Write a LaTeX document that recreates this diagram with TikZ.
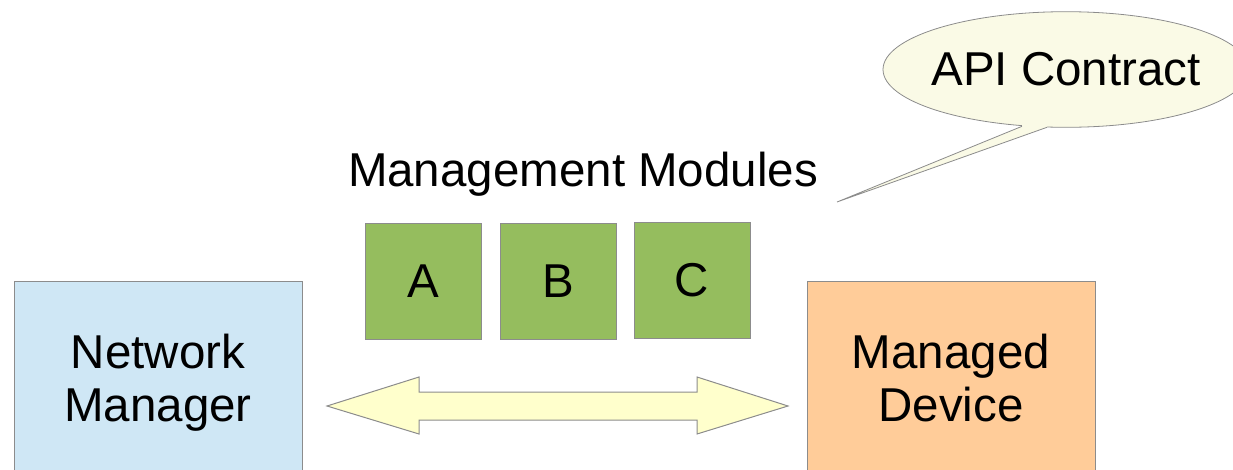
\documentclass[tikz,border=0pt]{standalone}
\usepackage{fontspec}
\setmainfont{Liberation Sans}
\usetikzlibrary{shapes.geometric}
\definecolor{nmblue}{HTML}{CFE7F5}
\definecolor{mdorange}{HTML}{FFCC99}
\definecolor{modgreen}{HTML}{95BD5E}
\definecolor{arrowyellow}{HTML}{FFFFCC}
\definecolor{calloutfill}{HTML}{FAFAE6}
\definecolor{edgegray}{HTML}{8C8C8C}
\begin{document}
\begin{tikzpicture}[x=1pt,y=-1pt,
  bigfont/.style={font=\fontsize{47.5}{53}\selectfont},
  bigbox/.style={draw=edgegray, line width=1pt, rectangle, inner sep=0pt,
     minimum width=288pt, minimum height=204pt, align=center, bigfont},
  modbox/.style={draw=edgegray, line width=1pt, rectangle, inner sep=0pt,
     fill=modgreen, minimum size=116pt, bigfont},
  shapeline/.style={draw=edgegray, line width=1pt, line join=miter}]
\useasboundingbox (0,0) rectangle (1233,469);
\clip (0,0) rectangle (1233,469);
% main boxes
\node[bigbox, fill=nmblue] (nm) at (158,383) {Network\\Manager};
\node[bigbox, fill=mdorange] (md) at (951,383) {Managed\\Device\vphantom{g}};
% modules
\node[bigfont, anchor=base] (mm) at (583,186) {Management Modules};
\node[modbox] (a) at (423,281) {A};
\node[modbox] (b) at (558,281) {B};
\node[modbox] (c) at (692,280) {C};
% double arrow
\filldraw[shapeline, fill=arrowyellow]
  (327,406) -- (419,377) -- (419,392) -- (697,392) -- (697,377) -- (788,406)
  -- (697,434) -- (697,420) -- (419,420) -- (419,434) -- cycle;
% callout
\node[ellipse, draw=edgegray, line width=0.8pt, fill=calloutfill, inner sep=0pt,
      minimum width=366pt, minimum height=115.6pt] (api) at (1066,69.5) {};
\node[bigfont] (apitext) at (api.center) {API Contract};
\coordinate (tip) at (837,202);
\coordinate (bl) at (1022,126.3);
\coordinate (br) at (1047,127.3);
\fill[calloutfill] (bl) -- (tip) -- (br) -- (1047,118) -- (1022,118) -- cycle;
\draw[draw=edgegray, line width=0.8pt] (bl) -- (tip) -- (br);
\end{tikzpicture}
\end{document}
